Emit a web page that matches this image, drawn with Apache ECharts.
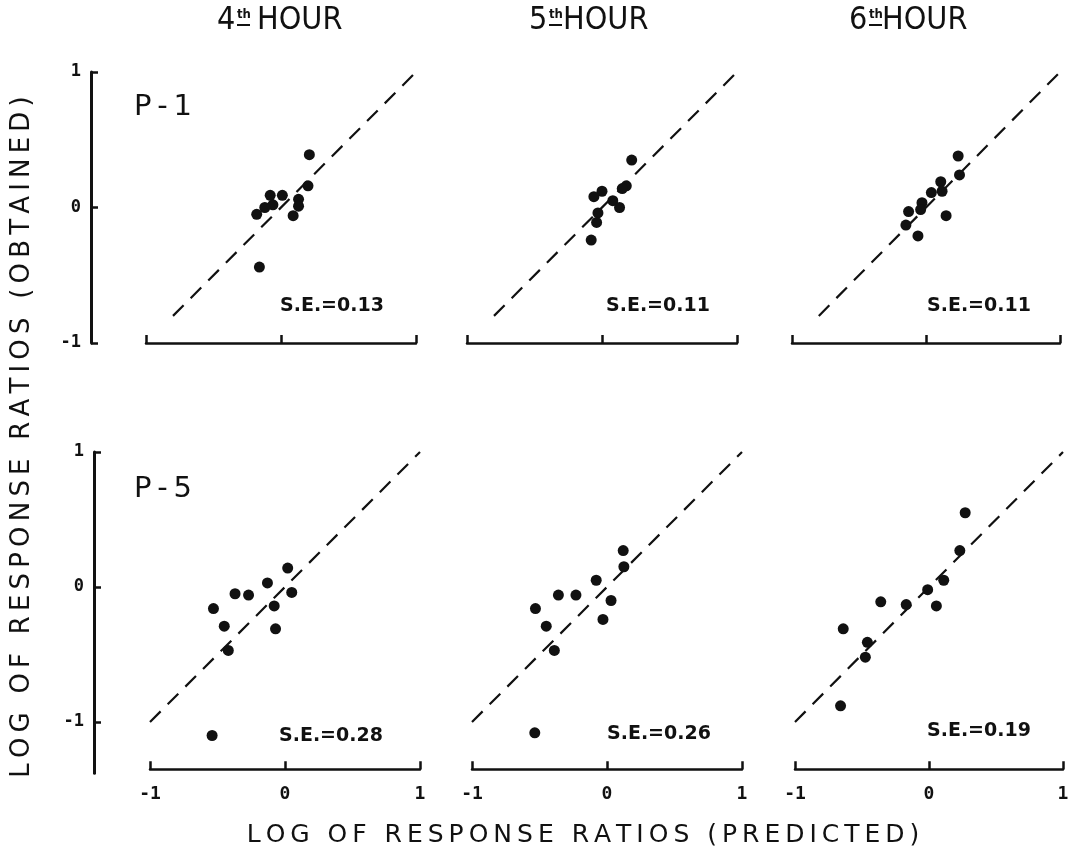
<!DOCTYPE html>
<html>
<head>
<meta charset="utf-8">
<script src="https://cdn.jsdelivr.net/npm/echarts@6/dist/echarts.min.js"></script>
<style>
  html, body { margin: 0; padding: 0; background: #fff; }
  #chart { width: 1075px; height: 853px; }
</style>
</head>
<body>
<div id="chart"></div>
<script>
// panel values: [predicted, obtained]
const p1Hour4 = [[0.21, 0.39], [0.20, 0.16], [-0.08, 0.09], [0.01, 0.09], [0.13, 0.06], [0.13, 0.01],
  [0.09, -0.06], [-0.06, 0.02], [-0.12, 0.0], [-0.18, -0.05], [-0.16, -0.44]]
const p1Hour5 = [[0.22, 0.35], [0.18, 0.16], [0.0, 0.12], [-0.06, 0.08], [0.15, 0.14], [0.08, 0.05],
  [0.13, 0.0], [-0.03, -0.04], [-0.04, -0.11], [-0.08, -0.24]]
const p1Hour6 = [[0.24, 0.38], [0.25, 0.24], [0.11, 0.19], [0.12, 0.12], [0.04, 0.11], [-0.03, 0.035],
  [-0.04, -0.015], [-0.13, -0.03], [0.15, -0.06], [-0.15, -0.13], [-0.06, -0.21]]
const p5Hour4 = [[0.02, 0.14], [-0.13, 0.03], [0.05, -0.04], [-0.37, -0.05], [-0.27, -0.06], [-0.53, -0.16],
  [-0.08, -0.14], [-0.45, -0.29], [-0.07, -0.31], [-0.42, -0.47], [-0.54, -1.10]]
const p5Hour5 = [[0.12, 0.27], [0.125, 0.15], [-0.08, 0.05], [-0.36, -0.06], [-0.23, -0.06], [0.03, -0.10],
  [-0.53, -0.16], [-0.45, -0.29], [-0.03, -0.24], [-0.39, -0.47], [-0.535, -1.08]]
const p5Hour6 = [[0.27, 0.55], [0.23, 0.27], [0.11, 0.05], [-0.01, -0.02], [-0.36, -0.11], [-0.17, -0.13],
  [0.055, -0.14], [-0.64, -0.31], [-0.46, -0.41], [-0.475, -0.52], [-0.66, -0.88]]

const hours = ['4', '5', '6']
const subjects = ['P-1', 'P-5']
const seValues = ['0.13', '0.11', '0.11', '0.28', '0.26', '0.19']
const diagTop = [-0.8, 1.0]
const diagBottom = [-1, 1]
const tickValues = [-1, 0, 1]
const yMinTop = -1
const yMinBottom = -1.38

const panels = [p1Hour4, p1Hour5, p1Hour6, p5Hour4, p5Hour5, p5Hour6]

let chart = echarts.init(document.getElementById('chart'))

const ink = '#111'
// zrender has no letter spacing, so put thin spaces between characters
const spaced = s => s.split('').join('\u2009')

const bottomH = 2.38 * 135
const grids = [
  { left: 146, top: 72, width: 270, height: 271 },
  { left: 467, top: 72, width: 270, height: 271 },
  { left: 792, top: 72, width: 268, height: 271 },
  { left: 150, top: 452, width: 270, height: bottomH },
  { left: 472, top: 452, width: 270, height: bottomH },
  { left: 795, top: 452, width: 268, height: bottomH },
]

let xAxes = grids.map((g, i) => {
  return {
    type: 'value',
    gridIndex: i,
    min: -1,
    max: 1,
    interval: 1,
    offset: i < 3 ? 0 : -4,
    axisLine: { show: true, onZero: false, lineStyle: { color: ink, width: 2.5 } },
    axisTick: { show: true, inside: true, length: 8, customValues: tickValues, lineStyle: { color: ink, width: 2.5 } },
    axisLabel: {
      show: i >= 3,
      customValues: tickValues,
      margin: 16,
      color: ink,
      fontFamily: 'DejaVu Sans Mono',
      fontWeight: 'bold',
      fontSize: 18,
    },
    splitLine: { show: false },
  }
})

let yAxes = grids.map((g, i) => {
  return {
    type: 'value',
    gridIndex: i,
    min: i < 3 ? yMinTop : yMinBottom,
    max: 1,
    show: i % 3 === 0,
    offset: i < 3 ? 55 : 56,
    axisLine: { show: true, onZero: false, lineStyle: { color: ink, width: 3 } },
    axisTick: { show: true, inside: true, length: 7, customValues: tickValues, lineStyle: { color: ink, width: 2.5 } },
    axisLabel: {
      customValues: tickValues,
      margin: 10,
      color: ink,
      fontFamily: 'DejaVu Sans Mono',
      fontWeight: 'bold',
      fontSize: 17,
    },
    splitLine: { show: false },
  }
})

let series = []
panels.forEach((pts, i) => {
  let d = i < 3 ? diagTop : diagBottom
  series.push({
    type: 'line',
    xAxisIndex: i,
    yAxisIndex: i,
    data: [[d[0], d[0]], [d[1], d[1]]],
    symbol: 'none',
    silent: true,
    lineStyle: { color: ink, width: 2.2, type: [15, 10] },
  })
  series.push({
    type: 'scatter',
    xAxisIndex: i,
    yAxisIndex: i,
    data: pts,
    symbolSize: 11,
    itemStyle: { color: ink, opacity: 1 },
  })
})

// headers: number, underlined superscript "th", HOUR
const headFont = '32px "DejaVu Sans Condensed", "DejaVu Sans", sans-serif'
const numX = [217, 529, 849]
const hourX = [257, 563, 882]
let graphic = []
hours.forEach((h, i) => {
  graphic.push({ type: 'text', left: numX[i], top: 5, style: { text: h, font: headFont, fill: ink } })
  graphic.push({ type: 'text', left: numX[i] + 20, top: 8, style: { text: 'th', font: 'bold 13px "DejaVu Sans Condensed", sans-serif', fill: ink } })
  graphic.push({ type: 'rect', shape: { x: numX[i] + 20, y: 24, width: 13, height: 2 }, style: { fill: ink } })
  graphic.push({ type: 'text', left: hourX[i], top: 5, style: { text: 'HOUR', font: headFont, fill: ink } })
})
subjects.forEach((s, i) => {
  graphic.push({
    type: 'text', left: 134, top: i === 0 ? 93 : 475,
    style: { text: spaced(s), font: '29px "DejaVu Sans", sans-serif', fill: ink },
  })
})
const seX = [280, 606, 927, 279, 607, 927]
const seY = [297, 297, 297, 727, 725, 722]
seValues.forEach((v, i) => {
  graphic.push({
    type: 'text', left: seX[i], top: seY[i],
    style: { text: 'S.E.=' + v, font: 'bold 19px "DejaVu Sans", sans-serif', fill: ink },
  })
})
graphic.push({
  type: 'text', x: 22, y: 437, rotation: Math.PI / 2,
  style: {
    text: spaced('LOG OF RESPONSE RATIOS (OBTAINED)'), font: '26px "DejaVu Sans", sans-serif', fill: ink,
    align: 'center', verticalAlign: 'middle',
  },
})
graphic.push({
  type: 'text', x: 583, y: 835,
  style: {
    text: spaced('LOG OF RESPONSE RATIOS (PREDICTED)'), font: '25px "DejaVu Sans", sans-serif', fill: ink,
    align: 'center', verticalAlign: 'middle',
  },
})

chart.setOption({
  backgroundColor: '#fff',
  animation: false,
  grid: grids,
  xAxis: xAxes,
  yAxis: yAxes,
  series: series,
  graphic: graphic,
})
</script>
</body>
</html>
